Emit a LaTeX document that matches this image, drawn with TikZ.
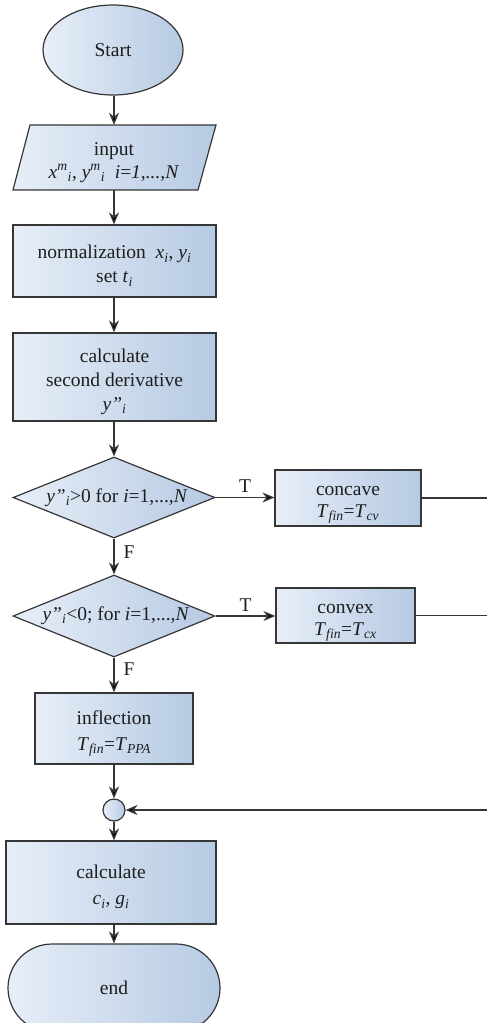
\documentclass[tikz,border=0pt]{standalone}
\usepackage{fontspec}
\setmainfont{Liberation Serif}
\usetikzlibrary{shapes.geometric,arrows.meta}
\definecolor{fillL}{HTML}{E7EEF8}
\definecolor{fillR}{HTML}{B6CAE3}
\definecolor{edgec}{HTML}{363636}
\definecolor{txtc}{HTML}{1E1E1E}
\newcommand\sbi[1]{\textsubscript{\itshape #1}}
\newcommand\stk[2]{\textsuperscript{\itshape #1}\textsubscript{\itshape #2}}
\newcommand\tp{\rule{0pt}{23pt}}
\tikzset{
  blk/.style={draw=edgec, line width=1.2pt, left color=fillL, right color=fillR,
    font=\fontsize{19.5}{24}\selectfont, text=txtc, align=center, inner sep=0pt},
  conn/.style={draw=edgec, line width=1.3pt, -{Stealth[length=12pt,width=10pt,fill=black]}},
  plainline/.style={draw=edgec, line width=1.3pt},
  lbl/.style={font=\fontsize{19.5}{24}\selectfont, text=txtc, inner sep=1pt}
}
\begin{document}
\begin{tikzpicture}[x=1pt,y=-1pt]
\useasboundingbox (0,0) rectangle (487,1023);
% Start
\node[blk, ellipse, minimum width=140pt, minimum height=90pt] (start) at (113,50) {Start};
% input parallelogram
\path[blk] (30,125) -- (216,125) -- (198,190) -- (13,190) -- cycle;
\node[lbl, minimum width=185pt, minimum height=65pt, align=center, inner sep=0pt] (input) at (114,157.5)
  {\tp input\\[-1pt] \textit{x}\stk{m}{i}, \textit{y}\stk{m}{i}\ \ \textit{i}=\textit{1,...,N}};
% normalization
\node[blk, rectangle, minimum width=203pt, minimum height=72pt] (norm) at (114.5,261)
  {\tp normalization\ \ \textit{x}\sbi{i}, \textit{y}\sbi{i}\\ set \textit{t}\sbi{i}};
% calculate second derivative
\node[blk, rectangle, minimum width=203pt, minimum height=88pt] (calc) at (114.5,377)
  {\tp calculate\\ second derivative\\ \textit{y"}\sbi{i}};
% diamond 1
\node[blk, diamond, aspect=2.5, minimum width=202pt, minimum height=81pt] (d1) at (114,497.5)
  {\makebox[0pt]{\kern6pt\raisebox{-3pt}{\textit{y"}\sbi{i}>0 for \textit{i}=1,...,\textit{N}}}};
% concave
\node[blk, rectangle, minimum width=146pt, minimum height=56pt] (concave) at (348,498)
  {\tp concave\\[-2pt] \textit{T}\sbi{fin}=\textit{T}\sbi{cv}};
% diamond 2
\node[blk, diamond, aspect=2.5, minimum width=202pt, minimum height=82pt] (d2) at (114,616)
  {\makebox[0pt]{\kern4pt\raisebox{-2pt}{\textit{y"}\sbi{i}<0; for \textit{i}=1,...,\textit{N}}}};
% convex
\node[blk, rectangle, minimum width=139pt, minimum height=55pt] (convex) at (345.5,615.5)
  {\tp convex\\[-2pt] \textit{T}\sbi{fin}=\textit{T}\sbi{cx}};
% inflection
\node[blk, rectangle, minimum width=158pt, minimum height=71pt] (infl) at (114,728.5)
  {\tp inflection\\[2pt] \textit{T}\sbi{fin}=\textit{T}\sbi{PPA}};
% junction
\node[blk, circle, minimum size=22pt] (jn) at (114,810) {};
% calculate c, g
\node[blk, rectangle, minimum width=210pt, minimum height=83pt] (calc2) at (111,882.5)
  {\tp calculate\\[2pt] \textit{c}\sbi{i}, \textit{g}\sbi{i}};
% end
\node[blk, rectangle, rounded corners=44pt, minimum width=212pt, minimum height=88pt] (end) at (114,988) {end};
% rail coordinates
\coordinate (r1) at (492,497.5);
\coordinate (r3) at (492,810);
% connectors
\draw[conn] (start.south -| input.north) -- (input.north);
\draw[conn] (input.south) -- (input.south |- norm.north);
\draw[conn] (input.south |- norm.south) -- (input.south |- calc.north);
\draw[conn] (input.south |- calc.south) -- (d1.north);
\draw[conn] (d1.east) -- (concave.west |- d1.east) node[lbl, midway, above=3pt] {T};
\draw[conn] (d1.south) -- (d2.north) node[lbl, pos=0.38, right=8pt] {F};
\draw[conn] (d2.east) -- (convex.west |- d2.east) node[lbl, midway, above=3pt] {T};
\draw[conn] (d2.south) -- (infl.north) node[lbl, pos=0.33, right=8pt] {F};
\draw[conn] (infl.south) -- (jn.north);
\draw[conn] (jn.south) -- (jn.south |- calc2.north);
\draw[conn] (jn.south |- calc2.south) -- (jn.south |- end.north);
\draw[plainline] (concave.east) -- (concave.east -| r1) -- (r3);
\draw[plainline] (convex.east) -- (convex.east -| r1);
\draw[conn] (r3) -- (jn.east);
\end{tikzpicture}
\end{document}
